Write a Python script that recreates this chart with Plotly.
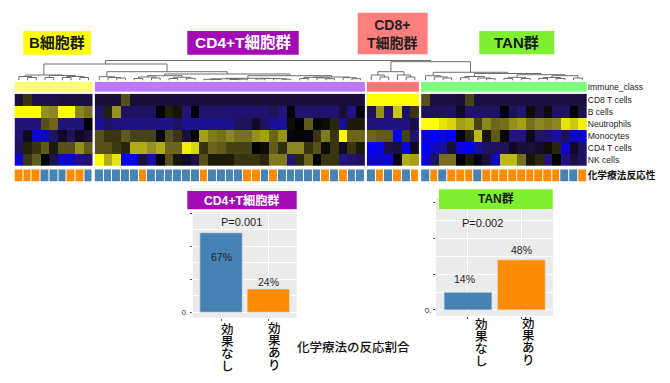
import plotly.graph_objects as go

W, H = 670, 383
FONT_JP = "Noto Sans CJK JP"
FONT_LAT = "Liberation Sans"
FONT_MIX = "Liberation Sans, Noto Sans CJK JP"

# ---------- data ----------
GROUPS = ["B細胞群", "CD4+T細胞群", "CD8+<br>T細胞群", "TAN群"]
ROWS = ["CD8 T cells", "B cells", "Neutrophils", "Monocytes", "CD4 T cells", "NK cells"]
CLASS_LABEL = "Immune_class"
RESPONSE_LABEL = "化学療法反応性"

HEAT_B = [
    [-.2, .2, -.25, -.25, -.25, -.2, -.2, -.2, -.2],
    [1, 1, 1, .6, .55, 1, 1, .55, .45],
    [-.45, -.45, -.45, .3, .4, -.45, -.45, -.45, 0],
    [-.4, -.1, -.85, -.8, -.35, -.1, -.3, -.1, -.15],
    [-.3, .12, .2, .35, .1, .3, .3, .6, .35],
    [-.85, .2, .35, 0, -.25, -.8, -.8, -.5, -.4],
]
HEAT_CD4 = [
    [-.15, -.15, -.15, .3] + [-.17] * 27,
    [-.4, .12, .6, -.35, -.35, -.35, -.35, 0, .12, .08, -.45, 0, -.4, -.4, -.4, -.4, -.4, -.4, -.4, -.4,
     -.3, -.45, -.02, -.4, -.4, -.4, -.4, -.4, -.15, -.5, -.05],
    [-.55, -.35, -.5, -.5, -.5, -.5, -.5, -.5, -.5, -.35, -.55, -.55, -.55, -.55, -.55, -.55, -.3, -.3, -.1, -.35,
     -.6, -.6, .05, 0, .35, .03, .05, .15, -.6, .1, .1],
    [.3, .2, .2, .35, .25, .25, .25, .03, .3, .2, -.15, 0, .65, .5, .45, .55, .45, .45, .6, .65,
     .4, .6, -.05, .02, -.05, .2, .5, .2, 1, .4, .4],
    [.3, .3, .22, .15, .7, .7, .6, .7, .4, .4, .95, .85, .2, .4, .35, .25, .25, .25, 0, .05,
     .35, .18, .55, .55, .2, .3, .05, .2, -.1, .2, .1],
    [1, .7, .9, -.95, -.9, -.2, -.6, 0, .3, .08, -.1, -.2, .3, .1, .1, .1, .2, .2, .2, .15,
     .5, .5, -.45, .15, .4, 0, .2, .2, -.45, -.4, -.35],
]
HEAT_CD8 = [
    [1, 1, 1, 1, 1, 1],
    [-.3, .6, -.4, .8, -.35, .2],
    [-.5, -.5, -.5, -.5, -.5, -.2],
    [.4, .35, .35, -.9, .25, -.4],
    [-1, -.85, -.25, -.2, -.9, -.1],
    [-.8, -.8, -.8, -.05, .7, .65],
]
HEAT_TAN = [
    [.3, -.2, -.2, -.2, -.15, .25, -.2, -.2, -.2, -.2, -.2, -.2, -.2, -.2, -.2, -.2, -.2, -.2, -.2],
    [-.3, -.3, -.3, -.35, -.1, -.4, -.35, -.35, -.35, 0, -.3, -.45, .05, -.2, .05, -.35, -.35, 0, -.25],
    [1, 1, .9, .85, .65, .7, .25, .55, .4, .45, .6, .65, .45, .55, .5, .55, .9, .8, .95],
    [-.85, -1, -.85, -1, 0, .15, .75, .08, .35, .03, -.45, -.45, -.08, -.4, -.4, -.6, -.3, -.8, -.8],
    [-1, -.75, -.6, -.15, -.85, -1, -.6, -.35, -.3, -.3, -.1, -.15, -.15, -.12, .05, .15, -.8, -.1, -.35],
    [-.85, -.3, .45, .45, 0, .1, -.05, -.15, -.75, .75, .75, .45, .08, .15, -.45, 0, -.5, -.2, -.35],
]
# 0 = no effect (blue), 1 = effect (orange)
RESP_B = [1, 1, 1, 0, 0, 0, 1, 1, 0]
RESP_CD4 = [0, 0, 0, 0, 0, 1, 0, 0, 0, 0, 0, 0, 1, 0, 0, 0, 0, 1, 1, 0, 1, 0, 0, 0, 0, 0, 1, 0, 1, 0, 0]
RESP_CD8 = [0, 1, 0, 1, 0, 1]
RESP_TAN = [0, 1, 0, 1, 1, 1, 0, 1, 1, 1, 1, 1, 1, 1, 1, 1, 0, 0, 1]

# dendrogram: [merge height, left, right]; None is a leaf
L = None
TREE_B = [5.5, [4, L, [3, L, L]], [5, [3, L, L], [4, [3, L, L], [3, L, L]]]]
TREE_CD4 = [8.8,
            [3.8, L, [3, L, [2.5, L, L]]],
            [6.5,
             [4.8, [3.5, [2, L, L], [2.5, L, L]], [3.2, [2, L, L], [2.2, L, L]]],
             [4.8,
              [2.2, [1.7, [1.2, L, [1, L, L]], [1.4, [1, L, L], L]], [2, [1.6, L, L], [1.8, L, [1.2, L, L]]]],
              [3.5, [3.2, [2, L, L], [2.6, L, [1.8, L, L]]], [2.8, L, [1.8, L, L]]]]]]
TREE_CD8 = [8.8, [5.5, L, [3.5, L, L]], [5.5, L, [3.5, L, L]]]
TREE_TAN = [8.2,
            [4.8, L, [3.6, L, [2.5, L, L]]],
            [7,
             [4, [2.8, L, L], [2.5, L, [1.8, L, L]]],
             [5.8, [3.2, [2, L, L], [2, L, L]], [4.8, [3, [2, L, L], [2, L, L]], [2.5, L, L]]]]]
TREE = [20, [16.5, TREE_B, TREE_CD4], [18.8, TREE_CD8, TREE_TAN]]

BAR_CATS = ["効果なし", "効果あり"]
BAR_TICKS = [0, 25, 50, 75]
BAR_MINOR = [12.5, 37.5, 62.5]
BAR_TICKTEXT = ["0.", "", "", ""]
CD4_BARS = [60.3, 17.7]
CD4_LABELS = ["67%", "24%"]
CD4_P = "P=0.001"
TAN_BARS = [12.4, 35]
TAN_LABELS = ["14%", "48%"]
TAN_P = "P=0.002"
BOTTOM_NOTE = "化学療法の反応割合"

# ---------- colours ----------
BLUE, ORANGE = "#4682B4", "#FF8C00"
CLASS_COLORS = ["#FFFF70", "#BF78FA", "#FF7878", "#7CFF7C"]
HEAD_COLORS = ["#FFFF00", "#A30CB4", "#FF7F7F", "#7FF02F"]
HEAT_SCALE = [[0, "rgb(0,0,255)"], [.275, "rgb(35,20,120)"], [.425, "rgb(25,15,55)"], [.5, "rgb(0,0,0)"],
              [.65, "rgb(85,80,25)"], [.8, "rgb(150,145,30)"], [1, "rgb(255,255,0)"]]


def px(p):
    return p / W


def py(p):
    return 1 - p / H


fig = go.Figure()

# ---------- heatmap blocks ----------
GAP = 0.23
blocks = [(HEAT_B, RESP_B), (HEAT_CD4, RESP_CD4), (HEAT_CD8, RESP_CD8), (HEAT_TAN, RESP_TAN)]
leaf_x = []
offset = 0
for k, (heat, resp) in enumerate(blocks):
    xs = [offset + i for i in range(len(resp))]
    leaf_x += xs
    offset = xs[-1] + 1 + GAP
    fig.add_trace(go.Heatmap(z=heat, x=xs, y=list(range(len(ROWS))), coloraxis="coloraxis", hoverinfo="skip"))
    fig.add_trace(go.Heatmap(z=[[k] * len(resp)], x=xs, y=[0], yaxis="y2", zmin=0, zmax=3, showscale=False,
                             hoverinfo="skip",
                             colorscale=[[0, CLASS_COLORS[0]], [.33, CLASS_COLORS[0]], [.33, CLASS_COLORS[1]],
                                         [.66, CLASS_COLORS[1]], [.66, CLASS_COLORS[2]], [.9, CLASS_COLORS[2]],
                                         [.9, CLASS_COLORS[3]], [1, CLASS_COLORS[3]]]))
    fig.add_trace(go.Heatmap(z=[resp], x=xs, y=[0], yaxis="y3", zmin=0, zmax=1, showscale=False, xgap=1,
                             hoverinfo="skip", colorscale=[[0, BLUE], [.5, BLUE], [.5, ORANGE], [1, ORANGE]]))
X_END = offset - GAP - 0.5

# ---------- dendrogram ----------
seg_x, seg_y = [], []
leaf_iter = iter(leaf_x)


def walk(node):
    if node is None:
        return next(leaf_iter), 0
    h, a, b = node
    xa, ha = walk(a)
    xb, hb = walk(b)
    seg_x.extend([xa, xa, xb, xb, None])
    seg_y.extend([ha, h, h, hb, None])
    return (xa + xb) / 2, h


walk(TREE)
fig.add_trace(go.Scatter(x=seg_x, y=seg_y, yaxis="y4", mode="lines", hoverinfo="skip", showlegend=False,
                         line=dict(color="#6E6E6E", width=1)))

# ---------- bars ----------
for xa, ya, vals in (("x2", "y5", CD4_BARS), ("x3", "y6", TAN_BARS)):
    fig.add_trace(go.Bar(x=[0, 1], y=vals, xaxis=xa, yaxis=ya, width=0.9, hoverinfo="skip", showlegend=False,
                         marker=dict(color=[BLUE, ORANGE], line=dict(color="#D8E4EE", width=0.8))))

ann = []


def head(x0, x1, y0, y1, color, text, size, fcolor):
    fig.add_shape(type="rect", xref="paper", yref="paper", x0=px(x0), x1=px(x1), y0=py(y1), y1=py(y0),
                  fillcolor=color, line_width=0, layer="above")
    ann.append(dict(x=px((x0 + x1) / 2), y=py((y0 + y1) / 2), xref="paper", yref="paper", text=f"<b>{text}</b>",
                    showarrow=False, xanchor="center", yanchor="middle",
                    font=dict(family=FONT_MIX, size=size, color=fcolor)))


head(23.3, 91, 31, 54.7, HEAD_COLORS[0], GROUPS[0], 15, "#1A1A1A")
head(187.3, 298.7, 31, 54.7, HEAD_COLORS[1], GROUPS[1], 15.5, "#FFFFFF")
head(357.7, 427.7, 12.7, 54.3, HEAD_COLORS[2], GROUPS[2], 14, "#222222")
head(479.3, 554.3, 31, 54.3, HEAD_COLORS[3], GROUPS[3], 15, "#1A1A1A")
head(187.3, 296.7, 191, 209.3, HEAD_COLORS[1], GROUPS[1], 12.2, "#FFFFFF")
head(439, 552.7, 189.3, 209, HEAD_COLORS[3], GROUPS[3], 12, "#1A1A1A")


def txt(xa, ya, x, y, text, size=10.5):
    ann.append(dict(xref=xa, yref=ya, x=x, y=y, text=text, showarrow=False, xanchor="center", yanchor="middle",
                    font=dict(family=FONT_LAT, size=size, color="#1E1E1E")))


txt("x2", "y5", 0.43, 68.4, CD4_P, 11)
txt("x2", "y5", 0, 42, CD4_LABELS[0])
txt("x2", "y5", 1, 23.2, CD4_LABELS[1])
txt("x3", "y6", 0.28, 60.8, TAN_P, 11)
txt("x3", "y6", -0.07, 21.9, TAN_LABELS[0])
txt("x3", "y6", 1, 41.9, TAN_LABELS[1])


def stacked(xa, cat_i, xshift, y_start, text):
    for j, ch in enumerate(text):
        ann.append(dict(xref=xa, yref="paper", x=cat_i, y=py(y_start + 12.4 * j), xshift=xshift, text=ch,
                        showarrow=False, xanchor="center", yanchor="middle",
                        font=dict(family=FONT_JP, size=12.5, color="#0A0A0A", weight=500)))


stacked("x2", 0, 6.3, 328, BAR_CATS[0])
stacked("x2", 1, 6, 327, BAR_CATS[1])
stacked("x3", 0, 14, 323, BAR_CATS[0])
stacked("x3", 1, 7.3, 322, BAR_CATS[1])

ann.append(dict(xref="paper", yref="paper", x=px(353.5), y=py(346), text=BOTTOM_NOTE, showarrow=False,
                xanchor="center", yanchor="middle",
                font=dict(family=FONT_JP, size=12.5, color="#111111", weight=500)))

hidden = dict(visible=False)
lab_font = dict(family=FONT_LAT, size=8.6, color="#222222")


def row_axis(y0, y1, rng, vals, text, font):
    return dict(domain=[py(y1), py(y0)], range=rng, anchor="x", side="right", tickmode="array", tickvals=vals,
                ticktext=text, showgrid=False, zeroline=False, ticks="", tickfont=font, ticklabelstandoff=0)


def bar_x(x0, x1):
    return dict(domain=[px(x0), px(x1)], range=[-0.6, 1.6], tickmode="array", tickvals=[0, 1], ticktext=["", ""],
                ticks="outside", ticklen=2, tickcolor="#555555", tickwidth=1, gridcolor="#FFFFFF", gridwidth=1.4,
                showgrid=True, zeroline=False)


def bar_y(y0, y1, lo, hi, anchor):
    return dict(domain=[py(y1), py(y0)], range=[lo, hi], anchor=anchor, tickmode="array", tickvals=BAR_TICKS,
                ticktext=BAR_TICKTEXT, ticks="outside", ticklen=2, tickcolor="#555555", tickwidth=1,
                tickfont=dict(family=FONT_LAT, size=8, color="#333333"), gridcolor="#FFFFFF", gridwidth=1.4,
                zeroline=False, showgrid=True,
                minor=dict(tickmode="array", tickvals=BAR_MINOR, showgrid=True, gridcolor="#FFFFFF", gridwidth=0.7,
                           ticks=""))


for xa, x0, x1, y0, y1 in (("x2", 192.7, 296.7, 211.7, 317.7), ("x3", 436, 553.3, 198, 315.7)):
    fig.add_shape(type="rect", xref=f"{xa} domain", yref=f"{'y5' if xa == 'x2' else 'y6'} domain", x0=0, x1=1, y0=0,
                  y1=1, fillcolor="#EBEBEB", line_width=0, layer="below")

fig.update_layout(
    width=W, height=H, margin=dict(l=0, r=0, t=0, b=0), paper_bgcolor="#FFFFFF", plot_bgcolor="#FFFFFF",
    showlegend=False, bargap=0.1, annotations=ann,
    coloraxis=dict(colorscale=HEAT_SCALE, cmin=-1, cmax=1, showscale=False),
    xaxis=dict(domain=[px(14.5), px(586.7)], range=[-0.5, X_END], showticklabels=False, showgrid=False,
               zeroline=False, ticks=""),
    yaxis=row_axis(93.7, 166, [5.5, -0.5], list(range(len(ROWS))), ROWS, lab_font),
    yaxis2=row_axis(81.7, 92, [-0.5, 0.5], [0], [CLASS_LABEL], lab_font),
    yaxis3=row_axis(169.3, 181.7, [-0.5, 0.5], [0], [f"<b>{RESPONSE_LABEL}</b>"],
                    dict(family=FONT_JP, size=9.7, color="#111111")),
    yaxis4=dict(domain=[py(80.5), py(60)], range=[0, 20.5], anchor="x", **hidden),
    xaxis2=dict(anchor="y5", **bar_x(192.7, 296.7)),
    yaxis5=bar_y(211.7, 317.7, -4.1, 76.2, "x2"),
    xaxis3=dict(anchor="y6", **bar_x(436, 553.3)),
    yaxis6=bar_y(198, 315.7, -4, 78, "x3"),
)

fig.write_html("out.html", config={"displayModeBar": False}, post_script="document.body.style.margin='0';")
